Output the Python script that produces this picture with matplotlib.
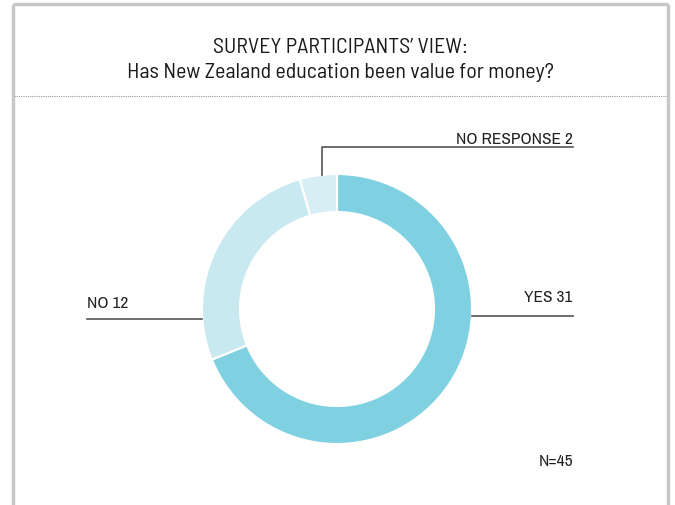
import matplotlib
matplotlib.use("Agg")
import matplotlib.pyplot as plt

categories = ["YES", "NO", "NO RESPONSE"]
values = [31, 12, 2]
colors = ["#7fd1e2", "#c9e9f0", "#d6eef4"]
total_label = "N=45"
title_lines = ["SURVEY PARTICIPANTS\u2019 VIEW:", "Has New Zealand education been value for money?"]

label_fam = ["Archivo Narrow", "DejaVu Sans"]
title_fam = ["Barlow Semi Condensed", "DejaVu Sans"]

W, H = 675, 506
fig = plt.figure(figsize=(6.75, 5.06), dpi=100)
ax = fig.add_axes([0, 0, 1, 1])

def Y(y):
    return H - y

cx, cy, R = 337, Y(310), 135
ax.pie(values, colors=colors, startangle=90, counterclock=False,
       center=(cx, cy), radius=R,
       wedgeprops=dict(width=38, edgecolor="white", linewidth=1.5))
ax.set_xlim(0, W)
ax.set_ylim(0, H)
ax.set_aspect("equal")
ax.axis("off")

# frame border
bc = "#c8c8c8"
ax.plot([13, 13], [Y(5), 0], color=bc, lw=2.5, solid_capstyle="butt")
ax.plot([668, 668], [Y(5), 0], color=bc, lw=2.5, solid_capstyle="butt")
ax.plot([13, 668], [Y(5), Y(5)], color=bc, lw=2.5, solid_capstyle="butt")
# dotted separator
ax.plot([14, 667], [Y(97), Y(97)], color="#999999", lw=0.8, linestyle=(0, (1, 1)))

# title
ax.text(340, Y(47), title_lines[0], ha="center", va="center", fontsize=15.8,
        family=title_fam, color="#1a1a1a")
ax.text(340, Y(72), title_lines[1], ha="center", va="center", fontsize=15.8,
        family=title_fam, color="#1a1a1a")

lc = "#555555"
tc = "#222222"
fs = 12.5
# NO RESPONSE
ax.plot([322, 322, 573], [Y(176), Y(148), Y(148)], color=lc, lw=1.2)
ax.text(573, Y(139), f"{categories[2]} {values[2]}", ha="right", va="center",
        fontsize=fs, family=label_fam, color=tc)
# NO
ax.plot([87, 202], [Y(320), Y(320)], color=lc, lw=1.2)
ax.text(87, Y(304), f"{categories[1]} {values[1]}", ha="left", va="center",
        fontsize=fs, family=label_fam, color=tc)
# YES
ax.plot([472, 573], [Y(317), Y(317)], color=lc, lw=1.2)
ax.text(573, Y(297), f"{categories[0]} {values[0]}", ha="right", va="center",
        fontsize=fs, family=label_fam, color=tc)
# N
ax.text(573, Y(462), total_label, ha="right", va="center",
        fontsize=fs, family=label_fam, color=tc)

fig.savefig("out.png", dpi=100)
